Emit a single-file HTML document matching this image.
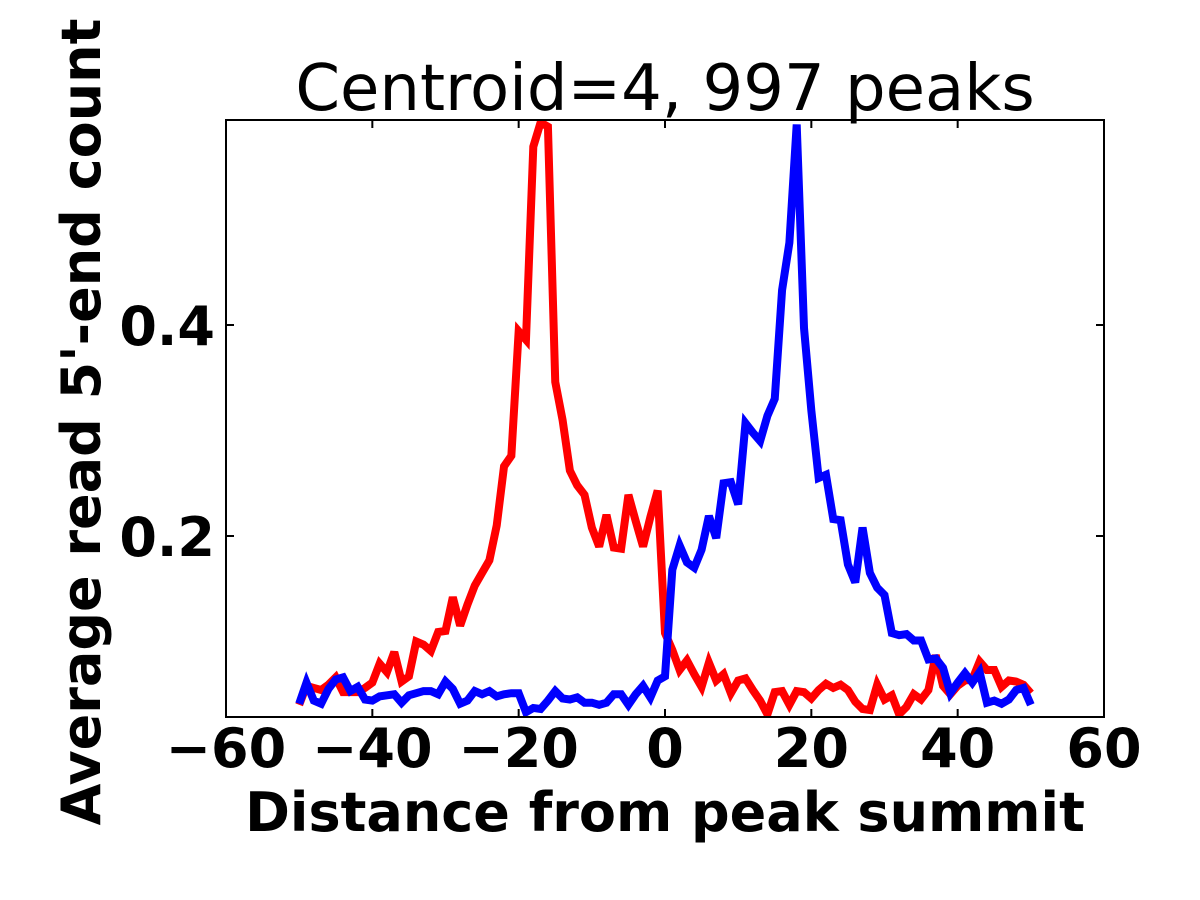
<!DOCTYPE html>
<html><head><meta charset="utf-8"><style>
html,body{margin:0;padding:0;background:#fff;}
svg{display:block;font-family:"DejaVu Sans","Liberation Sans",sans-serif;}
</style></head><body>
<svg id="chart" width="1200" height="900" viewBox="0 0 1200 900">
<defs><clipPath id="pc"><rect x="226" y="120" width="878" height="597"/></clipPath></defs>
<rect x="0" y="0" width="1200" height="900" fill="#fff"/>
<text x="665" y="110" font-size="64" text-anchor="middle">Centroid=4, 997 peaks</text>
<g id="ticks"></g>
<g id="lines" clip-path="url(#pc)"></g>
<rect x="226" y="120" width="878" height="597" fill="none" stroke="#000" stroke-width="2"/>
<text x="665" y="831" font-size="54" font-weight="bold" text-anchor="middle">Distance from peak summit</text>
<text transform="translate(100,422) rotate(-90)" font-size="54" font-weight="bold" text-anchor="middle">Average read 5'-end count</text>
</svg>
<script>
const xTicks=[-60,-40,-20,0,20,40,60];
const xTickLabels=["\u221260","\u221240","\u221220","0","20","40","60"];
const yTicks=[0.2,0.4];
const yTickLabels=["0.2","0.4"];
const positions=[];for(let i=-50;i<=50;i++)positions.push(i);
const redValues=[0.040,0.058,0.056,0.054,0.059,0.066,0.052,0.052,0.052,0.056,0.061,0.079,0.071,0.090,0.062,0.067,0.100,0.097,0.091,0.109,0.110,0.142,0.115,0.135,0.153,0.165,0.177,0.210,0.266,0.276,0.394,0.386,0.569,0.592,0.588,0.346,0.310,0.262,0.248,0.239,0.208,0.190,0.220,0.189,0.188,0.239,0.214,0.190,0.218,0.243,
0.108,0.092,0.073,0.082,0.069,0.057,0.080,0.063,0.069,0.051,0.063,0.065,0.054,0.044,0.031,0.052,0.053,0.040,0.053,0.052,0.046,0.054,0.060,0.056,0.059,0.054,0.043,0.036,0.035,0.059,0.045,0.049,0.031,0.038,0.050,0.045,0.054,0.087,0.058,0.050,0.058,0.063,0.064,0.081,0.073,0.073,0.057,0.063,0.062,0.059,0.051];
const blueValues=[0.041,0.061,0.044,0.041,0.055,0.064,0.066,0.053,0.057,0.045,0.044,0.048,0.049,0.050,0.042,0.049,0.051,0.053,0.053,0.050,0.062,0.055,0.041,0.044,0.053,0.050,0.053,0.048,0.050,0.051,0.051,0.033,0.037,0.036,0.044,0.053,0.046,0.045,0.047,0.042,0.042,0.040,0.042,0.050,0.050,0.040,0.050,0.058,0.047,0.063,
0.067,0.168,0.191,0.175,0.170,0.187,0.219,0.198,0.250,0.251,0.230,0.307,0.298,0.290,0.314,0.330,0.433,0.478,0.590,0.397,0.319,0.255,0.258,0.216,0.215,0.173,0.156,0.208,0.165,0.151,0.144,0.108,0.106,0.107,0.101,0.101,0.083,0.084,0.075,0.051,0.061,0.070,0.061,0.071,0.042,0.044,0.041,0.045,0.054,0.056,0.040];
const NS='http://www.w3.org/2000/svg';
const L=226,R=1104,T=120,B=717;
const xs=v=>L+(v+60)/120*(R-L);
const y0=747,yk=1055;
const ys=v=>y0-v*yk;
const tg=document.getElementById('ticks');
function mk(tag,attrs,parent){const e=document.createElementNS(NS,tag);for(const k in attrs)e.setAttribute(k,attrs[k]);parent.appendChild(e);return e;}
xTicks.forEach((t,i)=>{
  const x=xs(t);
  const a=mk('line',{x1:x,x2:x,y1:B,y2:B-8,stroke:'#000','stroke-width':2},tg);
  
  
  const b=mk('line',{x1:x,x2:x,y1:T,y2:T+8,stroke:'#000','stroke-width':2},tg);
  
  
  const tx=mk('text',{x:x,y:767,'font-size':54,'font-weight':'bold','text-anchor':'middle'},tg);
  tx.textContent=xTickLabels[i];
  
  
});
yTicks.forEach((t,i)=>{
  const y=ys(t);
  const a=mk('line',{x1:L,x2:L+8,y1:y,y2:y,stroke:'#000','stroke-width':2},tg);
  
  
  const b=mk('line',{x1:R,x2:R-8,y1:y,y2:y,stroke:'#000','stroke-width':2},tg);
  
  
  const tx=mk('text',{x:215,y:y+20,'font-size':54,'font-weight':'bold','text-anchor':'end'},tg);
  tx.textContent=yTickLabels[i];
  
  
});
const lg=document.getElementById('lines');
function drawLine(vals,color,name){
  const d=vals.map((v,i)=>(i?'L':'M')+xs(positions[i]).toFixed(2)+' '+ys(v).toFixed(2)).join(' ');
  const p=mk('path',{d:d,fill:'none',stroke:color,'stroke-width':8,'stroke-linejoin':'miter','stroke-miterlimit':3},lg);
  
  
}
drawLine(redValues,'#ff0000','red-line');
drawLine(blueValues,'#0000ff','blue-line');
</script>
</body></html>
